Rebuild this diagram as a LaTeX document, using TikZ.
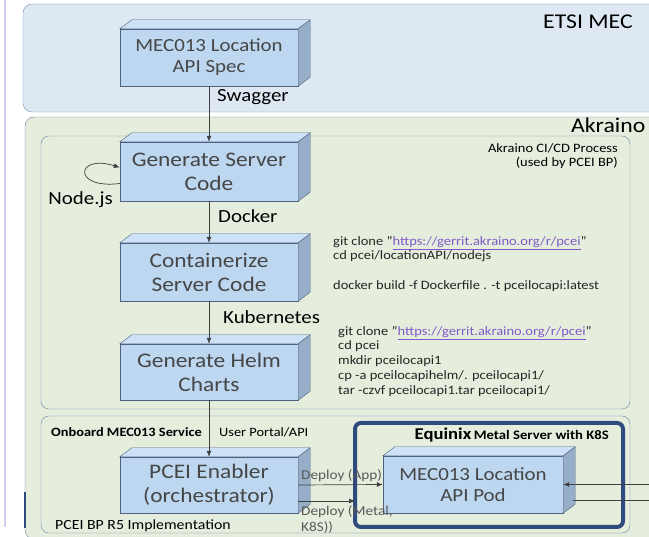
\documentclass[tikz,border=0pt]{standalone}
\usepackage{fontspec}
\setmainfont{Carlito}[FakeStretch=1.13]
\usetikzlibrary{arrows.meta,calc}
\definecolor{etsifill}{RGB}{222,232,243}
\definecolor{etsiline}{RGB}{125,147,186}
\definecolor{akrfill}{RGB}{229,237,221}
\definecolor{akrline}{RGB}{110,130,170}
\definecolor{boxfront}{RGB}{189,215,240}
\definecolor{boxtop}{RGB}{206,226,247}
\definecolor{boxside}{RGB}{150,174,200}
\definecolor{boxline}{RGB}{78,98,128}
\definecolor{boxtext}{RGB}{70,70,70}
\definecolor{eqxline}{RGB}{47,75,125}
\definecolor{urlcol}{RGB}{128,90,200}
\definecolor{slideedge}{RGB}{214,204,238}
\newcommand{\boxdepth}[1]{%
	\filldraw[draw=boxline,fill=boxtop] (#1.north west) -- ++(12,9) -- ($(#1.north east)+(12,9)$) -- (#1.north east) -- cycle;
	\filldraw[draw=boxline,fill=boxside] (#1.north east) -- ++(12,9) -- ($(#1.south east)+(12,9)$) -- (#1.south east) -- cycle;}
\newcommand{\gitlink}{\textcolor{urlcol}{\underline{https://gerrit.akraino.org/r/pcei}}}

\begin{document}
\begin{tikzpicture}[x=1pt,y=1pt]
			\tikzstyle{every node}+=[inner sep=0pt]
			\tikzstyle{block}=[draw=boxline,fill=boxfront,text=boxtext,minimum width=178pt,minimum height=57pt,align=center]
			\tikzstyle{bigtext}=[font=\fontsize{20.7}{24}\selectfont]
			\tikzstyle{midtext}=[font=\fontsize{18.5}{21}\selectfont]
			\tikzstyle{steplabel}=[anchor=west,font=\fontsize{18.5}{21}\selectfont]
			\tikzstyle{cmdtext}=[anchor=north west,align=left,text={black!85},font=\fontsize{12.8}{14.75}\selectfont]
			\tikzstyle{deploytext}=[anchor=west,text={black!65},font=\fontsize{13.5}{16}\selectfont]
			\tikzstyle{flow}=[draw={black!75},line width=0.7pt,-{Latex[length=6pt,width=5pt]}]
			\tikzstyle{wire}=[draw={black!75},line width=0.7pt]
			\clip (0,0) rectangle (649,-537);
			\fill[white] (0,0) rectangle (649,-537);
			\draw[slideedge,line width=2pt] (5,0) -- (5,-527);
			\draw[etsiline,fill=etsifill,rounded corners=9pt] (23,-4) rectangle (690,-112);
			\draw[akrline,fill=akrfill,rounded corners=9pt] (25,-117) rectangle (690,-539);
			\draw[eqxline,line width=1.5pt] (25,-492) -- (25,-528);
			\draw[akrline,rounded corners=8pt] (41,-136) rectangle (630,-409);
			\draw[akrline,rounded corners=8pt] (41,-416) rectangle (630,-533);
			\node[anchor=west,font=\fontsize{21}{24}\selectfont] (etsi) at (543,-22) {ETSI MEC};
			\node[anchor=west,font=\fontsize{21}{24}\selectfont] (akraino) at (571,-125) {Akraino};
			\node[anchor=north east,align=right,font=\fontsize{12.8}{14}\selectfont] (cicd) at (618,-143) {Akraino CI/CD Process\\(used by PCEI BP)};
			\node[anchor=west,font=\fontsize{12.7}{15}\selectfont\bfseries] (onboard) at (51,-432) {Onboard MEC013 Service};
			\node[anchor=west,font=\fontsize{14}{16}\selectfont] (impl) at (55,-526) {PCEI BP R5 Implementation};
			\draw[eqxline,line width=4pt,rounded corners=6pt] (355,-423) rectangle (623,-527);
			\node[anchor=east] (equinix) at (609,-435) {{\fontsize{16.5}{18}\selectfont\bfseries Equinix} {\fontsize{13}{16}\selectfont\bfseries Metal Server with K8S}};
			\coordinate (eqxwest) at (355,-475);
			\node[block,midtext] (spec) at (209,-57.5) {MEC013 Location\\API Spec};
			\node[block,bigtext,minimum height=59pt] (gen) at (209,-171.5) {Generate Server\\Code};
			\node[block,bigtext,minimum height=58pt] (cont) at (209,-272) {Containerize\\Server Code};
			\node[block,bigtext,minimum height=56pt] (helm) at (209,-372) {Generate Helm\\Charts};
			\node[block,bigtext,minimum height=56pt] (pcei) at (209,-485) {PCEI Enabler\\(orchestrator)};
			\node[block,midtext,minimum width=180pt] (pod) at (473,-484.5) {MEC013 Location\\API Pod};
			\boxdepth{spec}
			\boxdepth{gen}
			\boxdepth{cont}
			\boxdepth{helm}
			\boxdepth{pcei}
			\boxdepth{pod}
			\draw[flow] (spec) -- (gen);
			\draw[flow] (gen) -- (cont);
			\draw[flow] (cont) -- (helm);
			\draw[flow] (helm) -- (pcei);
			\draw[flow] ([yshift=-12pt]gen.west) .. controls +(-48,-6) and +(-44,14) .. ([yshift=4pt]gen.west);
			\draw[flow] (pcei.east) -- (pod.west);
			\coordinate (metalout) at ([yshift=-16pt]pcei.east);
			\draw[flow] (metalout) -- (metalout -| eqxwest);
			\coordinate (extin) at (660,-484.5);
			\coordinate (extout) at (660,-500.5);
			\coordinate (podside) at ([xshift=10pt,yshift=-16pt]pod.east);
			\draw[flow] (extin) -- (pod.east);
			\draw[wire] (extout) -- (podside);
			\node[steplabel] (swagger) at (217,-97) {Swagger};
			\node[steplabel] (docker) at (218,-216) {Docker};
			\node[steplabel] (kube) at (223,-317) {Kubernetes};
			\node[anchor=east,font=\fontsize{18.5}{21}\selectfont] (nodejs) at (113,-200) {Node.js};
			\node[anchor=west,font=\fontsize{12.7}{15}\selectfont] (portal) at (219,-432) {User Portal/API};
			\node[cmdtext] (dockercmd) at (333,-236) {git clone "\gitlink"\\cd pcei/locationAPI/nodejs\\[14.75pt]docker build -f Dockerfile . -t pceilocapi:latest};
			\node[cmdtext] (helmcmd) at (338,-326) {git clone "\gitlink"\\cd pcei\\mkdir pceilocapi1\\cp -a pceilocapihelm/. pceilocapi1/\\tar -czvf pceilocapi1.tar pceilocapi1/};
			\node[deploytext] (deployapp) at (301,-476) {Deploy (App)};
			\node[deploytext,anchor=north west,align=left] (deploymetal) at (301,-505) {Deploy (Metal,\\K8S))};
		\end{tikzpicture}
\end{document}
